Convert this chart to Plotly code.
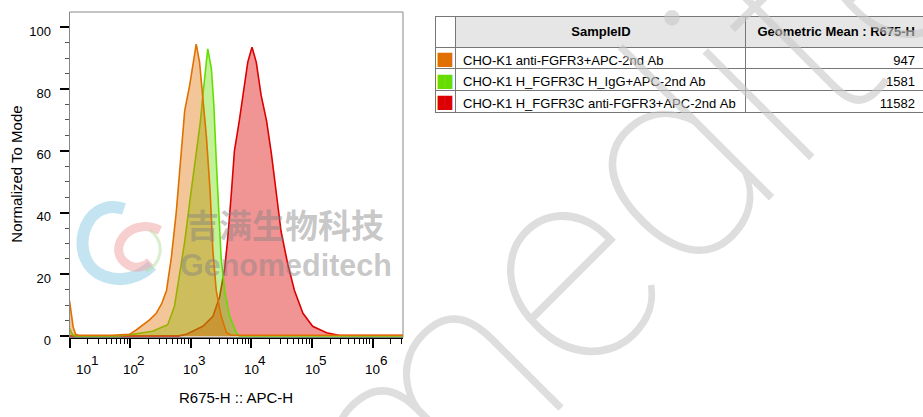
import numpy as np
import plotly.graph_objects as go

W, H = 923, 417

# ---------------- data (x as log10 of R675-H :: APC-H, y = % of mode) ----------------
orange_log = [1.0, 1.03, 1.06, 1.1, 1.15, 1.7, 1.99, 2.1, 2.21, 2.32, 2.43, 2.52, 2.6, 2.68, 2.76,
              2.84, 2.9, 2.98, 3.04, 3.09, 3.145, 3.2, 3.26, 3.32, 3.365, 3.42, 3.5, 3.59, 3.67, 4.5, 6.5]
orange_y = [11.5, 7, 3, 0.6, 0.3, 0.3, 0.6, 2.0, 3.7, 5.3, 7.4, 10.5, 14.8, 25.5, 40,
            58, 73, 81, 88, 94.5, 88.7, 78, 64, 46.5, 27.5, 14.8, 6.5, 1.1, 0.3, 0.3, 0.3]

green_log = [1.0, 1.05, 1.1, 1.8, 2.04, 2.37, 2.62, 2.73, 2.815, 2.9, 2.98, 3.06, 3.12, 3.16,
             3.2, 3.245, 3.28, 3.34, 3.38, 3.42, 3.46, 3.5, 3.56, 3.64, 3.75, 3.8, 6.5]
green_y = [2.5, 0.5, 0.1, 0.1, 0.6, 1.6, 3.7, 9.6, 20, 30.6, 43, 55, 65.5, 69.7,
           78, 86.6, 93, 86.6, 75, 57, 41, 25.4, 14.8, 6.4, 1.1, 0.1, 0.1]

red_log = [1.0, 2.8, 2.93, 3.2, 3.365, 3.475, 3.56, 3.61, 3.67, 3.72, 3.8, 3.87, 3.94, 4.01,
           4.08, 4.16, 4.25, 4.33, 4.41, 4.49, 4.6, 4.71, 4.85, 5.01, 5.24, 5.46, 6.5]
red_y = [0.1, 0.1, 0.6, 3.2, 6.4, 12.7, 22, 31.7, 46.5, 60, 69.7, 80, 88.7, 93.5,
         88.7, 78, 69.7, 59, 46.5, 33.8, 23.3, 14.8, 7.4, 3.2, 1.1, 0.2, 0.2]

table_headers = ["SampleID", "Geometric Mean : R675-H"]
sample_ids = ["CHO-K1 anti-FGFR3+APC-2nd Ab",
              "CHO-K1 H_FGFR3C H_IgG+APC-2nd Ab",
              "CHO-K1 H_FGFR3C anti-FGFR3+APC-2nd Ab"]
geo_means = [947, 1581, 11582]
decades = [1, 2, 3, 4, 5, 6]
y_ticks = [0, 20, 40, 60, 80, 100]

# ---------------- styles ----------------
ORANGE = "rgb(224,112,0)"
GREEN = "rgb(102,221,0)"
RED = "rgb(221,0,0)"
FONT = "Liberation Sans, Arial, sans-serif"
NBSP = "\u00a0"
HEADER_BG = "#e6e6e6"
CLEAR = "rgba(0,0,0,0)"


def px(x, y):
    return x / W, 1 - y / H


def nb(s):
    return s.replace(" ", NBSP)


fig = go.Figure()

series = [
    ("red", red_log, red_y, RED, "rgba(221,0,0,0.42)"),
    ("green", green_log, green_y, GREEN, "rgba(102,221,0,0.40)"),
    ("orange", orange_log, orange_y, ORANGE, "rgba(224,112,0,0.40)"),
]
for name, lx, yy, lc, fc in series:
    fig.add_trace(go.Scatter(
        x=10 ** np.array(lx), y=yy, mode="lines", name=name,
        line=dict(color=lc, width=1.6), fill="tozeroy", fillcolor=fc,
        showlegend=False, hoverinfo="skip"))

# ---------------- table (header row drawn as first cell row) ----------------
swatch_colors = [ORANGE, GREEN, RED]
n = len(sample_ids)
col0 = [NBSP] + ["██"] * n
col1 = [NBSP * 30 + "<b>" + nb(table_headers[0]) + "</b>"] + [nb(s) for s in sample_ids]
col2 = ["<b>" + nb(table_headers[1]) + "</b>"] + [str(v) for v in geo_means]
fig.add_trace(go.Table(
    domain=dict(x=[435 / W, 1.0], y=[0.0, 1.0]),
    columnwidth=[20, 290, 178],
    header=dict(fill=dict(color=CLEAR), line=dict(color=CLEAR)),
    cells=dict(
        values=[col0, col1, col2],
        align=["center", "left", "right"],
        height=21.7,
        fill_color=[["white"] * (n + 1), [HEADER_BG] + ["white"] * n,
                    [HEADER_BG] + ["white"] * n],
        line=dict(color="#777", width=1),
        font=dict(family=["DejaVu Sans Mono", FONT, FONT], size=[12, 13, 13],
                  color=[["white"] + swatch_colors, ["black"] * (n + 1), ["black"] * (n + 1)]),
    ),
))

# ---------------- axes ----------------
x0p, x1p = 69.5 / W, 403 / W
y1p, y0p = 1 - 12.3 / H, 1 - 345.7 / H

minor_x = [m * 10 ** d for d in decades for m in range(2, 10) if np.log10(m * 10 ** d) <= 6.5]
fig.update_xaxes(
    type="log", range=[1, 6.5], domain=[x0p, x1p],
    tickvals=[10 ** d for d in decades], showticklabels=False,
    ticks="outside", ticklen=9, tickwidth=2, tickcolor="black",
    minor=dict(tickmode="array", tickvals=minor_x, ticks="outside", ticklen=5,
               tickwidth=1, tickcolor="black", showgrid=False),
    showline=True, linecolor="black", linewidth=2,
    showgrid=False, zeroline=False, fixedrange=True,
)
fig.update_yaxes(
    range=[-0.4, 104.9], domain=[y0p, y1p],
    tickvals=y_ticks, ticks="outside", ticklen=9, tickwidth=2, tickcolor="black",
    minor=dict(tickmode="array", tickvals=[v for v in range(5, 105, 5) if v % 20],
               ticks="outside", ticklen=4, tickwidth=1, tickcolor="#555", showgrid=False),
    tickfont=dict(family=FONT, size=13, color="black"),
    ticklabelstandoff=6, ticklabelshift=4,
    showline=True, linecolor="#888", linewidth=1,
    showgrid=False, zeroline=False, fixedrange=True,
)

annotations = []
# x tick labels 10^n
for d in decades:
    shift = 14 if d == decades[0] else 0
    annotations.append(dict(x=d, xref="x", y=1 - 379 / H, yref="paper", text="10",
                            showarrow=False, xanchor="center", yanchor="middle", xshift=shift,
                            font=dict(family=FONT, size=13.5, color="black")))
    annotations.append(dict(x=d, xref="x", y=1 - 369.5 / H, yref="paper", text=str(d),
                            showarrow=False, xanchor="center", yanchor="middle", xshift=shift + 11,
                            font=dict(family=FONT, size=13.5, color="black")))

# axis titles
annotations.append(dict(x=236 / W, y=1 - 407 / H, xref="paper", yref="paper",
                        text="R675-H :: APC-H", showarrow=False, xanchor="center", yanchor="middle",
                        font=dict(family=FONT, size=15, color="black")))
annotations.append(dict(x=17 / W, y=1 - 179 / H, xref="paper", yref="paper",
                        text="Normalized To Mode", textangle=-90, showarrow=False,
                        xanchor="center", yanchor="middle",
                        font=dict(family=FONT, size=15, color="black")))

# watermark
annotations.append(dict(x=505 / W, y=1 - 335 / H, xref="paper", yref="paper",
                        text="Genomeditech", textangle=-45, showarrow=False,
                        xanchor="center", yanchor="middle",
                        font=dict(family="Roboto", size=285, weight=100,
                                  color="rgba(200,200,200,0.6)")))
annotations.append(dict(x=285 / W, y=1 - 229 / H, xref="paper", yref="paper",
                        text="<b>吉满生物科技</b>", showarrow=False, xanchor="center", yanchor="middle",
                        font=dict(family="Noto Sans CJK SC", size=33, color="rgba(130,130,130,0.45)")))
annotations.append(dict(x=286 / W, y=1 - 272 / H, xref="paper", yref="paper",
                        text="<b>Genomeditech</b>", showarrow=False, xanchor="center", yanchor="middle",
                        font=dict(family=FONT, size=30.5, color="rgba(130,130,130,0.45)")))


def path_from(pts):
    s = ""
    for cmd, coords in pts:
        parts = []
        for (x, y) in coords:
            a, b = px(x, y)
            parts.append(f"{a:.5f},{b:.5f}")
        s += cmd + " " + " ".join(parts) + " "
    return s.strip()


logo_blue = path_from([("M", [(124, 214)]), ("C", [(82, 200), (66, 268), (104, 283)]),
                       ("C", [(122, 290), (140, 284), (152, 272)])])
logo_pink = path_from([("M", [(160, 236)]), ("C", [(132, 222), (110, 250), (122, 266)]),
                       ("C", [(130, 276), (142, 276), (150, 268)])])
logo_green = path_from([("M", [(150, 236)]), ("C", [(166, 248), (162, 270), (146, 278)])])

shapes = [
    dict(type="rect", xref="x domain", yref="y domain", x0=0, x1=1, y0=0, y1=1,
         line=dict(color="#888", width=1), layer="above"),
    dict(type="path", xref="paper", yref="paper", path=logo_blue,
         line=dict(color="rgba(150,205,230,0.55)", width=12), layer="above"),
    dict(type="path", xref="paper", yref="paper", path=logo_pink,
         line=dict(color="rgba(240,160,160,0.5)", width=9), layer="above"),
    dict(type="path", xref="paper", yref="paper", path=logo_green,
         line=dict(color="rgba(180,220,160,0.5)", width=3), layer="above"),
]

fig.update_layout(
    width=W, height=H, autosize=False,
    margin=dict(l=0, r=0, t=0, b=0),
    paper_bgcolor="white", plot_bgcolor="white",
    annotations=annotations,
    shapes=shapes,
    font=dict(family=FONT, color="black"),
)

post = (
    "document.documentElement.style.margin='0px';"
    "document.body.style.margin='0px';"
    "document.body.style.overflow='hidden';"
    "document.documentElement.style.overflow='hidden';"
)
fig.write_html("out.html", config={"displayModeBar": False}, post_script=post)
